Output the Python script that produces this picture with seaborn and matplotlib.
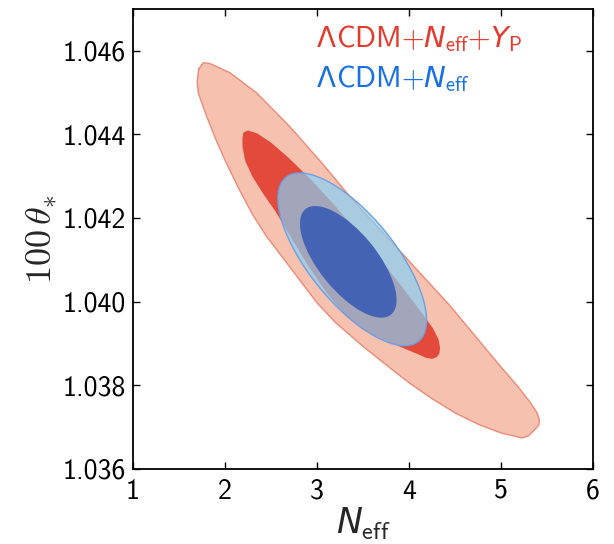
import numpy as np
import matplotlib
matplotlib.use('Agg')
import matplotlib.pyplot as plt
from matplotlib.patches import Circle
from matplotlib.transforms import Affine2D
import seaborn as sns

# contour outlines, (N_eff, 100 theta_*)
# LCDM+Neff+YP, 95% region
red_outer_x = [1.715, 1.763, 1.836, 2.053, 2.343, 2.705, 3.066, 3.300, 3.501, 3.863,
               4.225, 4.446, 4.628, 4.809, 4.991, 5.172, 5.318, 5.390, 5.419, 5.408,
               5.354, 5.299, 5.227, 5.136, 5.000, 4.750, 4.500, 4.250, 4.000, 3.750,
               3.500, 3.200, 3.000, 2.800, 2.600, 2.450, 2.300, 2.150, 2.000, 1.900,
               1.800, 1.709, 1.698]
red_outer_y = [1.04556, 1.04571, 1.04569, 1.04547, 1.04499, 1.04418, 1.04328, 1.04266, 1.04216, 1.04130,
               1.04043, 1.03990, 1.03942, 1.03894, 1.03846, 1.03800, 1.03759, 1.03735, 1.03715, 1.03704,
               1.03691, 1.03679, 1.03674, 1.03679, 1.03686, 1.03707, 1.03734, 1.03768, 1.03806, 1.03849,
               1.03893, 1.03950, 1.03997, 1.04055, 1.04113, 1.04156, 1.04208, 1.04270, 1.04338, 1.04388,
               1.04443, 1.04499, 1.04527]

# LCDM+Neff+YP, 68% region
red_inner_x = [2.200, 2.250, 2.350, 2.500, 2.700, 2.950, 3.200, 3.450, 3.700, 3.950,
               4.150, 4.260, 4.320, 4.338, 4.330, 4.300, 4.250, 4.180, 4.100, 4.000,
               3.850, 3.700, 3.500, 3.300, 3.100, 2.900, 2.700, 2.550, 2.420, 2.300,
               2.220, 2.190, 2.190]
red_inner_y = [1.04404, 1.04409, 1.04402, 1.04380, 1.04342, 1.04288, 1.04228, 1.04165, 1.04098, 1.04028,
               1.03970, 1.03936, 1.03910, 1.03890, 1.03876, 1.03867, 1.03863, 1.03866, 1.03874, 1.03883,
               1.03897, 1.03910, 1.03933, 1.03968, 1.04022, 1.04087, 1.04160, 1.04215, 1.04256, 1.04298,
               1.04336, 1.04370, 1.04390]

# LCDM+Neff ellipses: centre, end of long axis, end of short axis
blue_outer_centre = (3.383, 1.04101)
blue_outer_major = (2.662, 1.04297)
blue_outer_minor = (3.018, 1.04036)
blue_inner_centre = (3.340, 1.04095)
blue_inner_major = (2.875, 1.04221)
blue_inner_minor = (3.096, 1.04051)

x_ticks = [1, 2, 3, 4, 5, 6]
y_ticks = [1.036, 1.038, 1.040, 1.042, 1.044, 1.046]

sns.set_theme(style='ticks')
plt.rcParams['font.family'] = ['cmss10', 'DejaVu Sans']
plt.rcParams['mathtext.fontset'] = 'custom'
plt.rcParams['mathtext.rm'] = 'cmss10'
plt.rcParams['mathtext.it'] = 'DejaVu Sans:italic'
plt.rcParams['axes.unicode_minus'] = False

fig = plt.figure(figsize=(6.14, 5.44), dpi=100)
ax = fig.add_axes([0.2166, 0.138, 0.7492, 0.846])


def closed(a):
    return np.append(a, a[0])


def ellipse(centre, major, minor, **kw):
    # unit circle mapped onto the ellipse in data coordinates
    tr = Affine2D.from_values(major[0] - centre[0], major[1] - centre[1],
                              minor[0] - centre[0], minor[1] - centre[1],
                              centre[0], centre[1])
    return Circle((0, 0), 1, transform=tr + ax.transData, **kw)


# red (with YP)
ax.fill(red_outer_x, red_outer_y, color='#f6c1ae', lw=0, zorder=1)
sns.lineplot(x=closed(red_outer_x), y=closed(red_outer_y), sort=False, estimator=None,
             color='#ee8a78', lw=1.0, ax=ax, zorder=2)
ax.fill(red_inner_x, red_inner_y, color='#e34a3b', lw=0, zorder=3)

# blue (fixed YP)
ax.add_patch(ellipse(blue_outer_centre, blue_outer_major, blue_outer_minor,
                     facecolor=(0.52, 0.82, 0.976, 0.68), edgecolor='#6e9fe2', lw=1.0, zorder=4))
ax.add_patch(ellipse(blue_inner_centre, blue_inner_major, blue_inner_minor,
                     facecolor='#4463b5', edgecolor='none', zorder=6))

ax.set_xlim(1, 6)
ax.set_ylim(1.036, 1.047)
ax.set_xticks(x_ticks)
ax.set_yticks(y_ticks)
ax.set_xticklabels([str(v) for v in x_ticks])
ax.set_yticklabels(['%.3f' % v for v in y_ticks])
ax.tick_params(direction='in', length=5, width=1, labelsize=20, top=True, right=True,
               colors='black')
ax.tick_params(axis='y', pad=5)
ax.tick_params(axis='x', pad=7)
for s in ax.spines.values():
    s.set_linewidth(1.3)
    s.set_color('black')

ax.set_xlabel(r'$N_{\rm eff}$', fontsize=25, labelpad=1)
ax.set_ylabel(r'$100\,\theta_{*}$', fontsize=26, labelpad=3, math_fontfamily='cm')

# legend text: Lambda set in DejaVu, the rest continues from the same anchor
x0 = 0.441
for label, y0, col in [(r'CDM${+}N_{\rm eff}{+}Y_{\rm P}$', 0.916, '#e53a2c'),
                       (r'CDM${+}N_{\rm eff}$', 0.829, '#1670e6')]:
    ax.text(x0, y0, 'Λ', transform=ax.transAxes, color=col, fontsize=20,
            family='DejaVu Sans', ha='right', va='baseline')
    ax.text(x0, y0, label, transform=ax.transAxes, color=col, fontsize=21,
            ha='left', va='baseline')

fig.savefig('out.png', dpi=100)
